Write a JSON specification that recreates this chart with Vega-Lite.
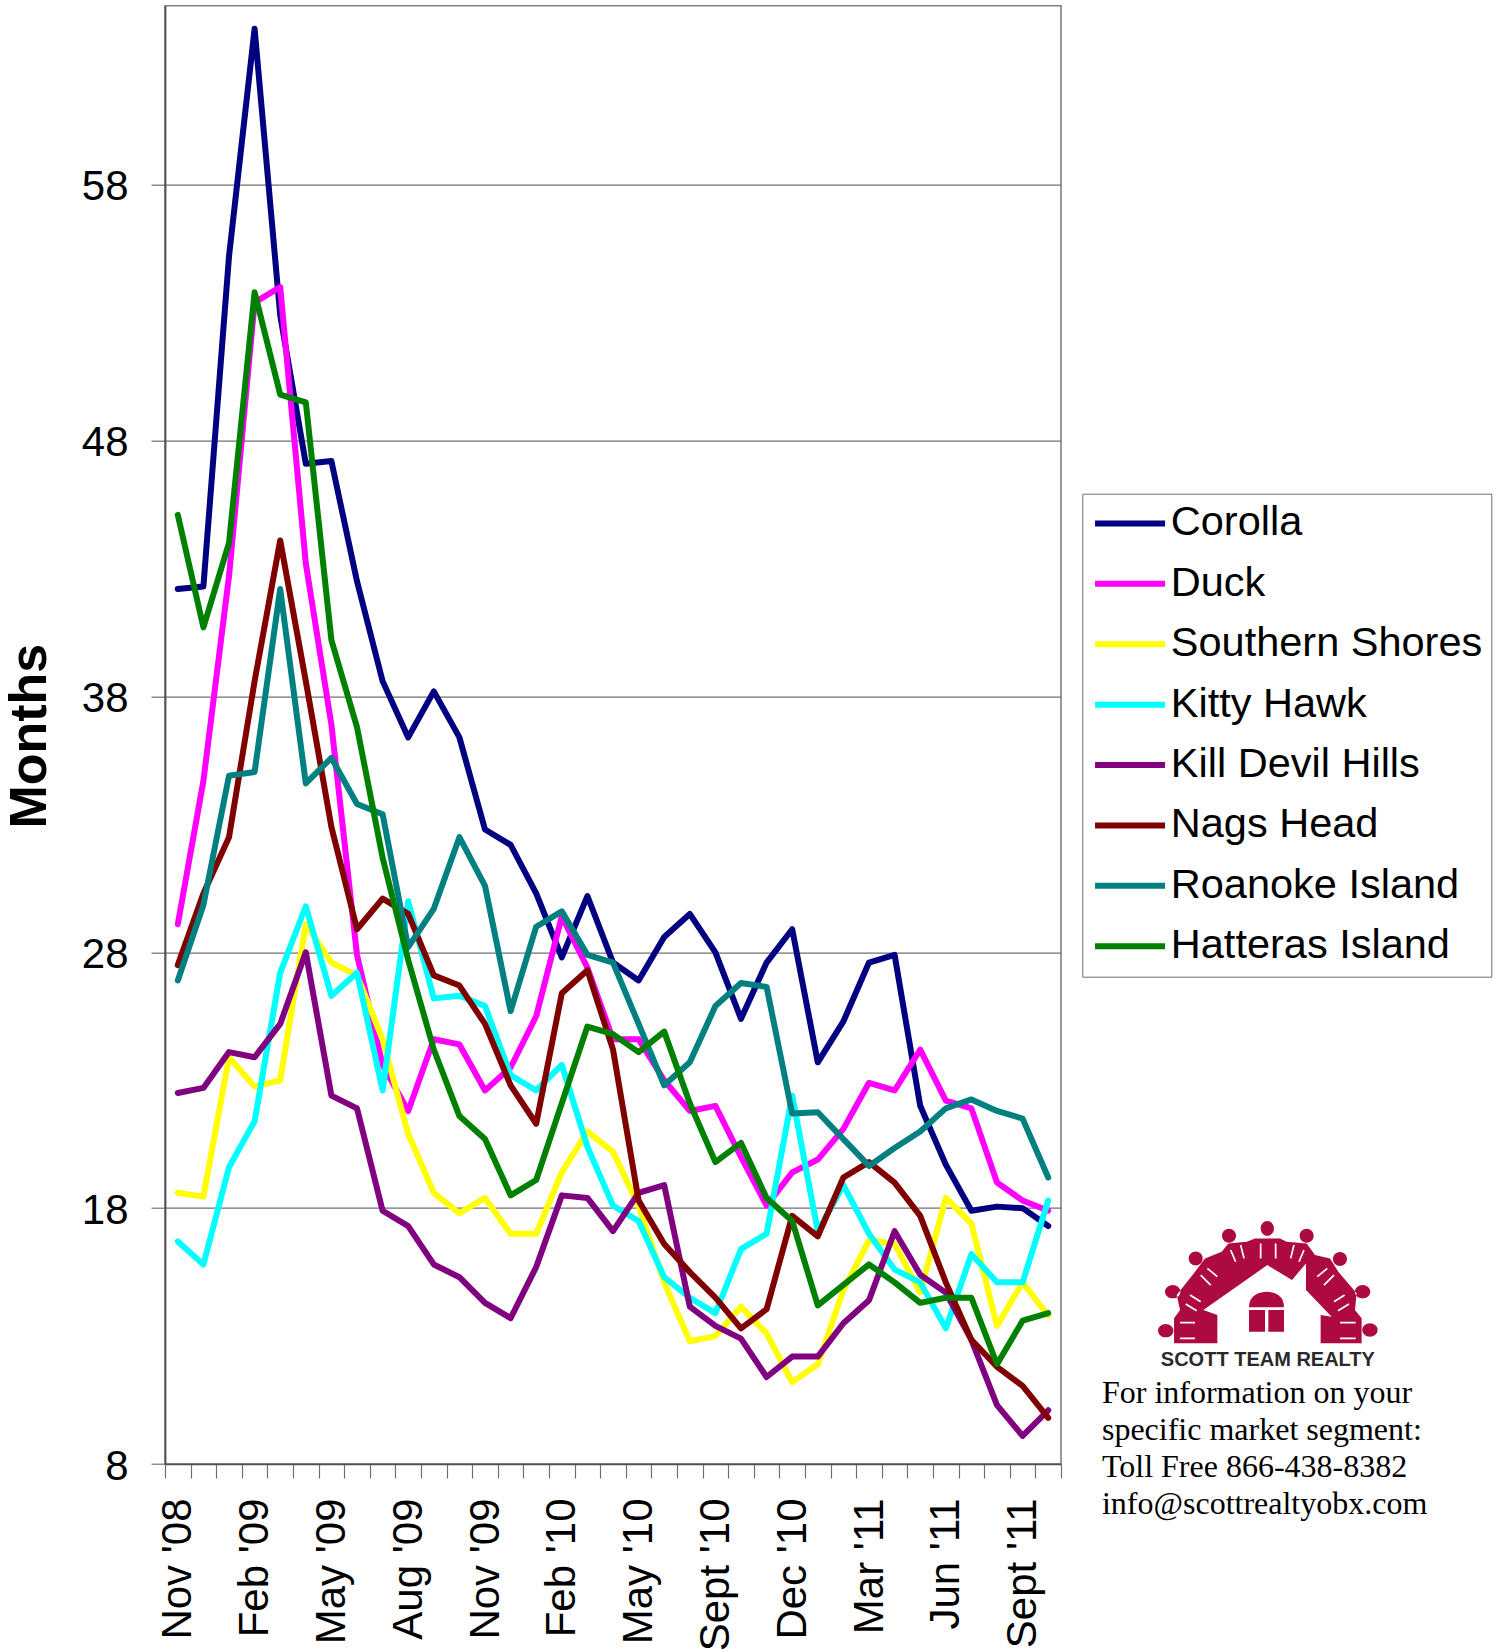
{"$schema":"https://vega.github.io/schema/vega-lite/v6.json","autosize":{"type":"none"},"padding":{"left":165,"top":5.7,"right":444,"bottom":188},"width":896,"height":1458.3,"background":"white","config":{"font":"Liberation Sans","view":{"stroke":"#808080","strokeWidth":1.6}},"datasets":{"rows":[
{"month":"Nov '08","town":"Corolla","months":42.2},{"month":"Dec '08","town":"Corolla","months":42.3},{"month":"Jan '09","town":"Corolla","months":55.2},{"month":"Feb '09","town":"Corolla","months":64.1},{"month":"Mar '09","town":"Corolla","months":52.9},{"month":"Apr '09","town":"Corolla","months":47.1},{"month":"May '09","town":"Corolla","months":47.2},{"month":"Jun '09","town":"Corolla","months":42.5},{"month":"Jul '09","town":"Corolla","months":38.6},{"month":"Aug '09","town":"Corolla","months":36.4},{"month":"Sep '09","town":"Corolla","months":38.2},{"month":"Oct '09","town":"Corolla","months":36.4},{"month":"Nov '09","town":"Corolla","months":32.8},{"month":"Dec '09","town":"Corolla","months":32.2},{"month":"Jan '10","town":"Corolla","months":30.3},{"month":"Feb '10","town":"Corolla","months":27.8},{"month":"Mar '10","town":"Corolla","months":30.2},{"month":"Apr '10","town":"Corolla","months":27.6},{"month":"May '10","town":"Corolla","months":26.9},{"month":"Jun '10","town":"Corolla","months":28.6},{"month":"Aug '10","town":"Corolla","months":29.5},{"month":"Sept '10","town":"Corolla","months":28.0},{"month":"Oct '10","town":"Corolla","months":25.4},{"month":"Nov '10","town":"Corolla","months":27.6},{"month":"Dec '10","town":"Corolla","months":28.9},{"month":"Jan '11","town":"Corolla","months":23.7},{"month":"Feb '11","town":"Corolla","months":25.3},{"month":"Mar '11","town":"Corolla","months":27.6},{"month":"Apr '11","town":"Corolla","months":27.9},{"month":"May '11","town":"Corolla","months":22.0},{"month":"Jun '11","town":"Corolla","months":19.7},{"month":"Jul '11","town":"Corolla","months":17.9},{"month":"Aug '11","town":"Corolla","months":18.06},{"month":"Sept '11","town":"Corolla","months":18.0},{"month":"Oct '11","town":"Corolla","months":17.3},
{"month":"Nov '08","town":"Duck","months":29.1},{"month":"Dec '08","town":"Duck","months":34.7},{"month":"Jan '09","town":"Duck","months":42.7},{"month":"Feb '09","town":"Duck","months":53.4},{"month":"Mar '09","town":"Duck","months":54.0},{"month":"Apr '09","town":"Duck","months":43.2},{"month":"May '09","town":"Duck","months":36.9},{"month":"Jun '09","town":"Duck","months":27.9},{"month":"Jul '09","town":"Duck","months":23.6},{"month":"Aug '09","town":"Duck","months":21.8},{"month":"Sep '09","town":"Duck","months":24.6},{"month":"Oct '09","town":"Duck","months":24.4},{"month":"Nov '09","town":"Duck","months":22.6},{"month":"Dec '09","town":"Duck","months":23.5},{"month":"Jan '10","town":"Duck","months":25.5},{"month":"Feb '10","town":"Duck","months":29.4},{"month":"Mar '10","town":"Duck","months":27.4},{"month":"Apr '10","town":"Duck","months":24.6},{"month":"May '10","town":"Duck","months":24.6},{"month":"Jun '10","town":"Duck","months":23.0},{"month":"Aug '10","town":"Duck","months":21.8},{"month":"Sept '10","town":"Duck","months":22.0},{"month":"Oct '10","town":"Duck","months":20.0},{"month":"Nov '10","town":"Duck","months":18.1},{"month":"Dec '10","town":"Duck","months":19.4},{"month":"Jan '11","town":"Duck","months":19.9},{"month":"Feb '11","town":"Duck","months":21.1},{"month":"Mar '11","town":"Duck","months":22.9},{"month":"Apr '11","town":"Duck","months":22.6},{"month":"May '11","town":"Duck","months":24.2},{"month":"Jun '11","town":"Duck","months":22.2},{"month":"Jul '11","town":"Duck","months":21.9},{"month":"Aug '11","town":"Duck","months":19.0},{"month":"Sept '11","town":"Duck","months":18.3},{"month":"Oct '11","town":"Duck","months":17.9},
{"month":"Nov '08","town":"Southern Shores","months":18.6},{"month":"Dec '08","town":"Southern Shores","months":18.45},{"month":"Jan '09","town":"Southern Shores","months":23.9},{"month":"Feb '09","town":"Southern Shores","months":22.75},{"month":"Mar '09","town":"Southern Shores","months":23.0},{"month":"Apr '09","town":"Southern Shores","months":29.1},{"month":"May '09","town":"Southern Shores","months":27.6},{"month":"Jun '09","town":"Southern Shores","months":27.1},{"month":"Jul '09","town":"Southern Shores","months":24.6},{"month":"Aug '09","town":"Southern Shores","months":20.9},{"month":"Sep '09","town":"Southern Shores","months":18.6},{"month":"Oct '09","town":"Southern Shores","months":17.8},{"month":"Nov '09","town":"Southern Shores","months":18.4},{"month":"Dec '09","town":"Southern Shores","months":17.0},{"month":"Jan '10","town":"Southern Shores","months":17.0},{"month":"Feb '10","town":"Southern Shores","months":19.4},{"month":"Mar '10","town":"Southern Shores","months":21.0},{"month":"Apr '10","town":"Southern Shores","months":20.2},{"month":"May '10","town":"Southern Shores","months":18.1},{"month":"Jun '10","town":"Southern Shores","months":15.1},{"month":"Aug '10","town":"Southern Shores","months":12.8},{"month":"Sept '10","town":"Southern Shores","months":13.0},{"month":"Oct '10","town":"Southern Shores","months":14.15},{"month":"Nov '10","town":"Southern Shores","months":13.1},{"month":"Dec '10","town":"Southern Shores","months":11.2},{"month":"Jan '11","town":"Southern Shores","months":11.9},{"month":"Feb '11","town":"Southern Shores","months":14.8},{"month":"Mar '11","town":"Southern Shores","months":16.75},{"month":"Apr '11","town":"Southern Shores","months":16.6},{"month":"May '11","town":"Southern Shores","months":14.7},{"month":"Jun '11","town":"Southern Shores","months":18.4},{"month":"Jul '11","town":"Southern Shores","months":17.4},{"month":"Aug '11","town":"Southern Shores","months":13.4},{"month":"Sept '11","town":"Southern Shores","months":15.1},{"month":"Oct '11","town":"Southern Shores","months":13.8},
{"month":"Nov '08","town":"Kitty Hawk","months":16.7},{"month":"Dec '08","town":"Kitty Hawk","months":15.8},{"month":"Jan '09","town":"Kitty Hawk","months":19.6},{"month":"Feb '09","town":"Kitty Hawk","months":21.4},{"month":"Mar '09","town":"Kitty Hawk","months":27.2},{"month":"Apr '09","town":"Kitty Hawk","months":29.8},{"month":"May '09","town":"Kitty Hawk","months":26.3},{"month":"Jun '09","town":"Kitty Hawk","months":27.2},{"month":"Jul '09","town":"Kitty Hawk","months":22.6},{"month":"Aug '09","town":"Kitty Hawk","months":30.0},{"month":"Sep '09","town":"Kitty Hawk","months":26.2},{"month":"Oct '09","town":"Kitty Hawk","months":26.3},{"month":"Nov '09","town":"Kitty Hawk","months":25.9},{"month":"Dec '09","town":"Kitty Hawk","months":23.2},{"month":"Jan '10","town":"Kitty Hawk","months":22.6},{"month":"Feb '10","town":"Kitty Hawk","months":23.6},{"month":"Mar '10","town":"Kitty Hawk","months":20.4},{"month":"Apr '10","town":"Kitty Hawk","months":18.1},{"month":"May '10","town":"Kitty Hawk","months":17.5},{"month":"Jun '10","town":"Kitty Hawk","months":15.3},{"month":"Aug '10","town":"Kitty Hawk","months":14.5},{"month":"Sept '10","town":"Kitty Hawk","months":13.9},{"month":"Oct '10","town":"Kitty Hawk","months":16.4},{"month":"Nov '10","town":"Kitty Hawk","months":17.0},{"month":"Dec '10","town":"Kitty Hawk","months":22.4},{"month":"Jan '11","town":"Kitty Hawk","months":17.1},{"month":"Feb '11","town":"Kitty Hawk","months":18.9},{"month":"Mar '11","town":"Kitty Hawk","months":17.0},{"month":"Apr '11","town":"Kitty Hawk","months":15.6},{"month":"May '11","town":"Kitty Hawk","months":15.1},{"month":"Jun '11","town":"Kitty Hawk","months":13.3},{"month":"Jul '11","town":"Kitty Hawk","months":16.2},{"month":"Aug '11","town":"Kitty Hawk","months":15.1},{"month":"Sept '11","town":"Kitty Hawk","months":15.1},{"month":"Oct '11","town":"Kitty Hawk","months":18.3},
{"month":"Nov '08","town":"Kill Devil Hills","months":22.5},{"month":"Dec '08","town":"Kill Devil Hills","months":22.7},{"month":"Jan '09","town":"Kill Devil Hills","months":24.1},{"month":"Feb '09","town":"Kill Devil Hills","months":23.9},{"month":"Mar '09","town":"Kill Devil Hills","months":25.2},{"month":"Apr '09","town":"Kill Devil Hills","months":28.0},{"month":"May '09","town":"Kill Devil Hills","months":22.4},{"month":"Jun '09","town":"Kill Devil Hills","months":21.9},{"month":"Jul '09","town":"Kill Devil Hills","months":17.9},{"month":"Aug '09","town":"Kill Devil Hills","months":17.3},{"month":"Sep '09","town":"Kill Devil Hills","months":15.8},{"month":"Oct '09","town":"Kill Devil Hills","months":15.3},{"month":"Nov '09","town":"Kill Devil Hills","months":14.3},{"month":"Dec '09","town":"Kill Devil Hills","months":13.7},{"month":"Jan '10","town":"Kill Devil Hills","months":15.7},{"month":"Feb '10","town":"Kill Devil Hills","months":18.5},{"month":"Mar '10","town":"Kill Devil Hills","months":18.4},{"month":"Apr '10","town":"Kill Devil Hills","months":17.1},{"month":"May '10","town":"Kill Devil Hills","months":18.6},{"month":"Jun '10","town":"Kill Devil Hills","months":18.9},{"month":"Aug '10","town":"Kill Devil Hills","months":14.15},{"month":"Sept '10","town":"Kill Devil Hills","months":13.4},{"month":"Oct '10","town":"Kill Devil Hills","months":12.9},{"month":"Nov '10","town":"Kill Devil Hills","months":11.4},{"month":"Dec '10","town":"Kill Devil Hills","months":12.2},{"month":"Jan '11","town":"Kill Devil Hills","months":12.2},{"month":"Feb '11","town":"Kill Devil Hills","months":13.5},{"month":"Mar '11","town":"Kill Devil Hills","months":14.4},{"month":"Apr '11","town":"Kill Devil Hills","months":17.1},{"month":"May '11","town":"Kill Devil Hills","months":15.4},{"month":"Jun '11","town":"Kill Devil Hills","months":14.7},{"month":"Jul '11","town":"Kill Devil Hills","months":12.85},{"month":"Aug '11","town":"Kill Devil Hills","months":10.3},{"month":"Sept '11","town":"Kill Devil Hills","months":9.1},{"month":"Oct '11","town":"Kill Devil Hills","months":10.1},
{"month":"Nov '08","town":"Nags Head","months":27.5},{"month":"Dec '08","town":"Nags Head","months":30.3},{"month":"Jan '09","town":"Nags Head","months":32.5},{"month":"Feb '09","town":"Nags Head","months":38.6},{"month":"Mar '09","town":"Nags Head","months":44.1},{"month":"Apr '09","town":"Nags Head","months":38.6},{"month":"May '09","town":"Nags Head","months":32.9},{"month":"Jun '09","town":"Nags Head","months":28.9},{"month":"Jul '09","town":"Nags Head","months":30.1},{"month":"Aug '09","town":"Nags Head","months":29.5},{"month":"Sep '09","town":"Nags Head","months":27.1},{"month":"Oct '09","town":"Nags Head","months":26.7},{"month":"Nov '09","town":"Nags Head","months":25.2},{"month":"Dec '09","town":"Nags Head","months":22.8},{"month":"Jan '10","town":"Nags Head","months":21.3},{"month":"Feb '10","town":"Nags Head","months":26.4},{"month":"Mar '10","town":"Nags Head","months":27.3},{"month":"Apr '10","town":"Nags Head","months":24.2},{"month":"May '10","town":"Nags Head","months":18.3},{"month":"Jun '10","town":"Nags Head","months":16.6},{"month":"Aug '10","town":"Nags Head","months":15.5},{"month":"Sept '10","town":"Nags Head","months":14.5},{"month":"Oct '10","town":"Nags Head","months":13.3},{"month":"Nov '10","town":"Nags Head","months":14.05},{"month":"Dec '10","town":"Nags Head","months":17.7},{"month":"Jan '11","town":"Nags Head","months":16.9},{"month":"Feb '11","town":"Nags Head","months":19.2},{"month":"Mar '11","town":"Nags Head","months":19.8},{"month":"Apr '11","town":"Nags Head","months":19.0},{"month":"May '11","town":"Nags Head","months":17.7},{"month":"Jun '11","town":"Nags Head","months":15.1},{"month":"Jul '11","town":"Nags Head","months":12.85},{"month":"Aug '11","town":"Nags Head","months":11.8},{"month":"Sept '11","town":"Nags Head","months":11.05},{"month":"Oct '11","town":"Nags Head","months":9.8},
{"month":"Nov '08","town":"Roanoke Island","months":26.9},{"month":"Dec '08","town":"Roanoke Island","months":29.85},{"month":"Jan '09","town":"Roanoke Island","months":34.9},{"month":"Feb '09","town":"Roanoke Island","months":35.05},{"month":"Mar '09","town":"Roanoke Island","months":42.2},{"month":"Apr '09","town":"Roanoke Island","months":34.6},{"month":"May '09","town":"Roanoke Island","months":35.6},{"month":"Jun '09","town":"Roanoke Island","months":33.8},{"month":"Jul '09","town":"Roanoke Island","months":33.4},{"month":"Aug '09","town":"Roanoke Island","months":28.2},{"month":"Sep '09","town":"Roanoke Island","months":29.7},{"month":"Oct '09","town":"Roanoke Island","months":32.5},{"month":"Nov '09","town":"Roanoke Island","months":30.6},{"month":"Dec '09","town":"Roanoke Island","months":25.7},{"month":"Jan '10","town":"Roanoke Island","months":29.0},{"month":"Feb '10","town":"Roanoke Island","months":29.6},{"month":"Mar '10","town":"Roanoke Island","months":27.9},{"month":"Apr '10","town":"Roanoke Island","months":27.6},{"month":"May '10","town":"Roanoke Island","months":25.2},{"month":"Jun '10","town":"Roanoke Island","months":22.8},{"month":"Aug '10","town":"Roanoke Island","months":23.7},{"month":"Sept '10","town":"Roanoke Island","months":25.9},{"month":"Oct '10","town":"Roanoke Island","months":26.8},{"month":"Nov '10","town":"Roanoke Island","months":26.65},{"month":"Dec '10","town":"Roanoke Island","months":21.7},{"month":"Jan '11","town":"Roanoke Island","months":21.75},{"month":"Feb '11","town":"Roanoke Island","months":20.7},{"month":"Mar '11","town":"Roanoke Island","months":19.65},{"month":"Apr '11","town":"Roanoke Island","months":20.35},{"month":"May '11","town":"Roanoke Island","months":21.0},{"month":"Jun '11","town":"Roanoke Island","months":21.9},{"month":"Jul '11","town":"Roanoke Island","months":22.25},{"month":"Aug '11","town":"Roanoke Island","months":21.8},{"month":"Sept '11","town":"Roanoke Island","months":21.5},{"month":"Oct '11","town":"Roanoke Island","months":19.2},
{"month":"Nov '08","town":"Hatteras Island","months":45.1},{"month":"Dec '08","town":"Hatteras Island","months":40.7},{"month":"Jan '09","town":"Hatteras Island","months":44.0},{"month":"Feb '09","town":"Hatteras Island","months":53.8},{"month":"Mar '09","town":"Hatteras Island","months":49.8},{"month":"Apr '09","town":"Hatteras Island","months":49.5},{"month":"May '09","town":"Hatteras Island","months":40.2},{"month":"Jun '09","town":"Hatteras Island","months":36.8},{"month":"Jul '09","town":"Hatteras Island","months":31.7},{"month":"Aug '09","town":"Hatteras Island","months":27.7},{"month":"Sep '09","town":"Hatteras Island","months":24.2},{"month":"Oct '09","town":"Hatteras Island","months":21.6},{"month":"Nov '09","town":"Hatteras Island","months":20.7},{"month":"Dec '09","town":"Hatteras Island","months":18.5},{"month":"Jan '10","town":"Hatteras Island","months":19.1},{"month":"Feb '10","town":"Hatteras Island","months":22.1},{"month":"Mar '10","town":"Hatteras Island","months":25.1},{"month":"Apr '10","town":"Hatteras Island","months":24.8},{"month":"May '10","town":"Hatteras Island","months":24.1},{"month":"Jun '10","town":"Hatteras Island","months":24.9},{"month":"Aug '10","town":"Hatteras Island","months":22.1},{"month":"Sept '10","town":"Hatteras Island","months":19.8},{"month":"Oct '10","town":"Hatteras Island","months":20.55},{"month":"Nov '10","town":"Hatteras Island","months":18.4},{"month":"Dec '10","town":"Hatteras Island","months":17.5},{"month":"Jan '11","town":"Hatteras Island","months":14.2},{"month":"Feb '11","town":"Hatteras Island","months":15.0},{"month":"Mar '11","town":"Hatteras Island","months":15.8},{"month":"Apr '11","town":"Hatteras Island","months":15.1},{"month":"May '11","town":"Hatteras Island","months":14.3},{"month":"Jun '11","town":"Hatteras Island","months":14.5},{"month":"Jul '11","town":"Hatteras Island","months":14.5},{"month":"Aug '11","town":"Hatteras Island","months":11.9},{"month":"Sept '11","town":"Hatteras Island","months":13.6},{"month":"Oct '11","town":"Hatteras Island","months":13.9}
],"logo":[{"item":"Scott Team Realty"}]},
"layer":[
{"data":{"name":"rows"},"mark":{"type":"line","strokeWidth":6,"strokeCap":"round","strokeJoin":"round","clip":false},
"encoding":{
"x":{"field":"month","type":"ordinal","sort":null,"title":null,"axis":{"tickBand":"extent","tickSize":14,"tickColor":"#707070","tickWidth":1.2,"domainColor":"#505050","domainWidth":1.5,"grid":false,"labelAngle":270,"labelAlign":"right","labelBaseline":"middle","labelFontSize":42,"labelColor":"black","labelPadding":20,"labelOverlap":false,"labelBound":false,"labelFlush":false,"labelLimit":0,"labelExpr":"indexof(['Nov \\'08','Feb \\'09','May \\'09','Aug \\'09','Nov \\'09','Feb \\'10','May \\'10','Sept \\'10','Dec \\'10','Mar \\'11','Jun \\'11','Sept \\'11'],datum.label)>=0?datum.label:''"}},
"y":{"field":"months","type":"quantitative","scale":{"domain":[8,65],"nice":false,"zero":false},"title":"Months","axis":{"values":[8,18,28,38,48,58],"grid":true,"gridColor":"#707070","gridWidth":1.3,"tickSize":14,"tickColor":"#707070","tickWidth":1.2,"domainColor":"#505050","domainWidth":1.8,"labelFontSize":42,"labelColor":"black","labelPadding":23,"labelOffset":2,"labelLimit":0,"titleFontSize":52,"titleFontWeight":"bold","titleColor":"black","titleAngle":270,"titleAlign":"center","titleBaseline":"middle","titleX":-136,"titleY":730}},
"color":{"field":"town","type":"nominal","sort":null,"scale":{"domain":["Corolla","Duck","Southern Shores","Kitty Hawk","Kill Devil Hills","Nags Head","Roanoke Island","Hatteras Island"],"range":["#000080","#FF00FF","#FFFF00","#00FFFF","#800080","#800000","#008080","#008000"]},
"legend":{"title":null,"orient":"none","legendX":917.3,"legendY":488,"fillColor":"white","strokeColor":"#707070","padding":9,"labelFontSize":41.5,"labelColor":"black","labelLimit":0,"symbolType":"M-2,0H2","symbolSize":1225,"symbolStrokeWidth":6,"symbolOffset":18,"labelOffset":20,"rowPadding":17.4}}}},
{"data":{"name":"logo"},"mark":{"type":"point","filled":true,"color":"#AC0A40","opacity":1,"size":0.444,"strokeWidth":0,"clip":false,"shape":"M-280,180V105L-262,80L-272,35L-217,-35L-187,-75L-137,-95L-117,-120L-62,-125L-37,-135H38L58,-125L118,-120L143,-85L188,-75L213,-35L268,30L263,80L283,105V180H160V95L193,100L116,20V-60L74,-10L0,-55L-192,80L-150,95V180ZM-328,142a23,20 0 1,0 46,0a23,20 0 1,0 -46,0ZM-307,25a23,20 0 1,0 46,0a23,20 0 1,0 -46,0ZM-236,-75a21,21 0 1,0 42,0a21,21 0 1,0 -42,0ZM-136,-143a21,21 0 1,0 42,0a21,21 0 1,0 -42,0ZM-20,-165a20,22 0 1,0 40,0a20,22 0 1,0 -40,0ZM97,-143a21,21 0 1,0 42,0a21,21 0 1,0 -42,0ZM197,-73a21,21 0 1,0 42,0a21,21 0 1,0 -42,0ZM263,25a23,20 0 1,0 46,0a23,20 0 1,0 -46,0ZM285,140a23,20 0 1,0 46,0a23,20 0 1,0 -46,0ZM-55,145V80H-7V145ZM3,145V80H50V145ZM-55,72Q-55,28 -2,25Q50,28 50,72Z"},
"encoding":{"x":{"datum":43.06,"type":"quantitative","scale":{"domain":[0,35],"range":[0,896],"nice":false,"zero":false},"axis":null},"y":{"datum":15.06,"type":"quantitative","scale":{"domain":[8,65],"nice":false,"zero":false},"axis":null}}},
{"data":{"name":"logo"},"mark":{"type":"point","filled":false,"color":"white","opacity":1,"size":0.444,"strokeWidth":1.7,"clip":false,"shape":"M-262,118H-217M-262,165H-217M218,118H265M218,165H265M-245,62L-212,82M-232,35L-200,55M-200,-25L-170,5M-180,-45L-150,-20M-110,-100L-95,-65M-80,-115L-70,-75M-20,-120V-75M25,-120V-75M245,62L212,82M232,35L200,55M200,-25L170,5M180,-45L150,-20M110,-100L95,-65M80,-115L70,-75"},
"encoding":{"x":{"datum":43.06,"type":"quantitative","scale":{"domain":[0,35],"range":[0,896],"nice":false,"zero":false},"axis":null},"y":{"datum":15.06,"type":"quantitative","scale":{"domain":[8,65],"nice":false,"zero":false},"axis":null}}},
{"data":{"name":"logo"},"mark":{"type":"text","text":"SCOTT TEAM REALTY","font":"Liberation Sans","fontWeight":"bold","fontSize":20,"color":"#2A2A2A","align":"left","baseline":"alphabetic","clip":false},
"encoding":{"x":{"datum":38.9,"type":"quantitative","scale":{"domain":[0,35],"range":[0,896],"nice":false,"zero":false},"axis":null},"y":{"datum":11.83,"type":"quantitative","scale":{"domain":[8,65],"nice":false,"zero":false},"axis":null}}},
{"data":{"name":"logo"},"mark":{"type":"text","text":["For information on your","specific market segment:","Toll Free 866-438-8382","info@scottrealtyobx.com"],"lineHeight":37,"font":"Liberation Serif","fontSize":32,"color":"black","align":"left","baseline":"alphabetic","clip":false},
"encoding":{"x":{"datum":36.6,"type":"quantitative","scale":{"domain":[0,35],"range":[0,896],"nice":false,"zero":false},"axis":null},"y":{"datum":10.4,"type":"quantitative","scale":{"domain":[8,65],"nice":false,"zero":false},"axis":null}}}
],
"resolve":{"scale":{"x":"independent","y":"independent"}}}
